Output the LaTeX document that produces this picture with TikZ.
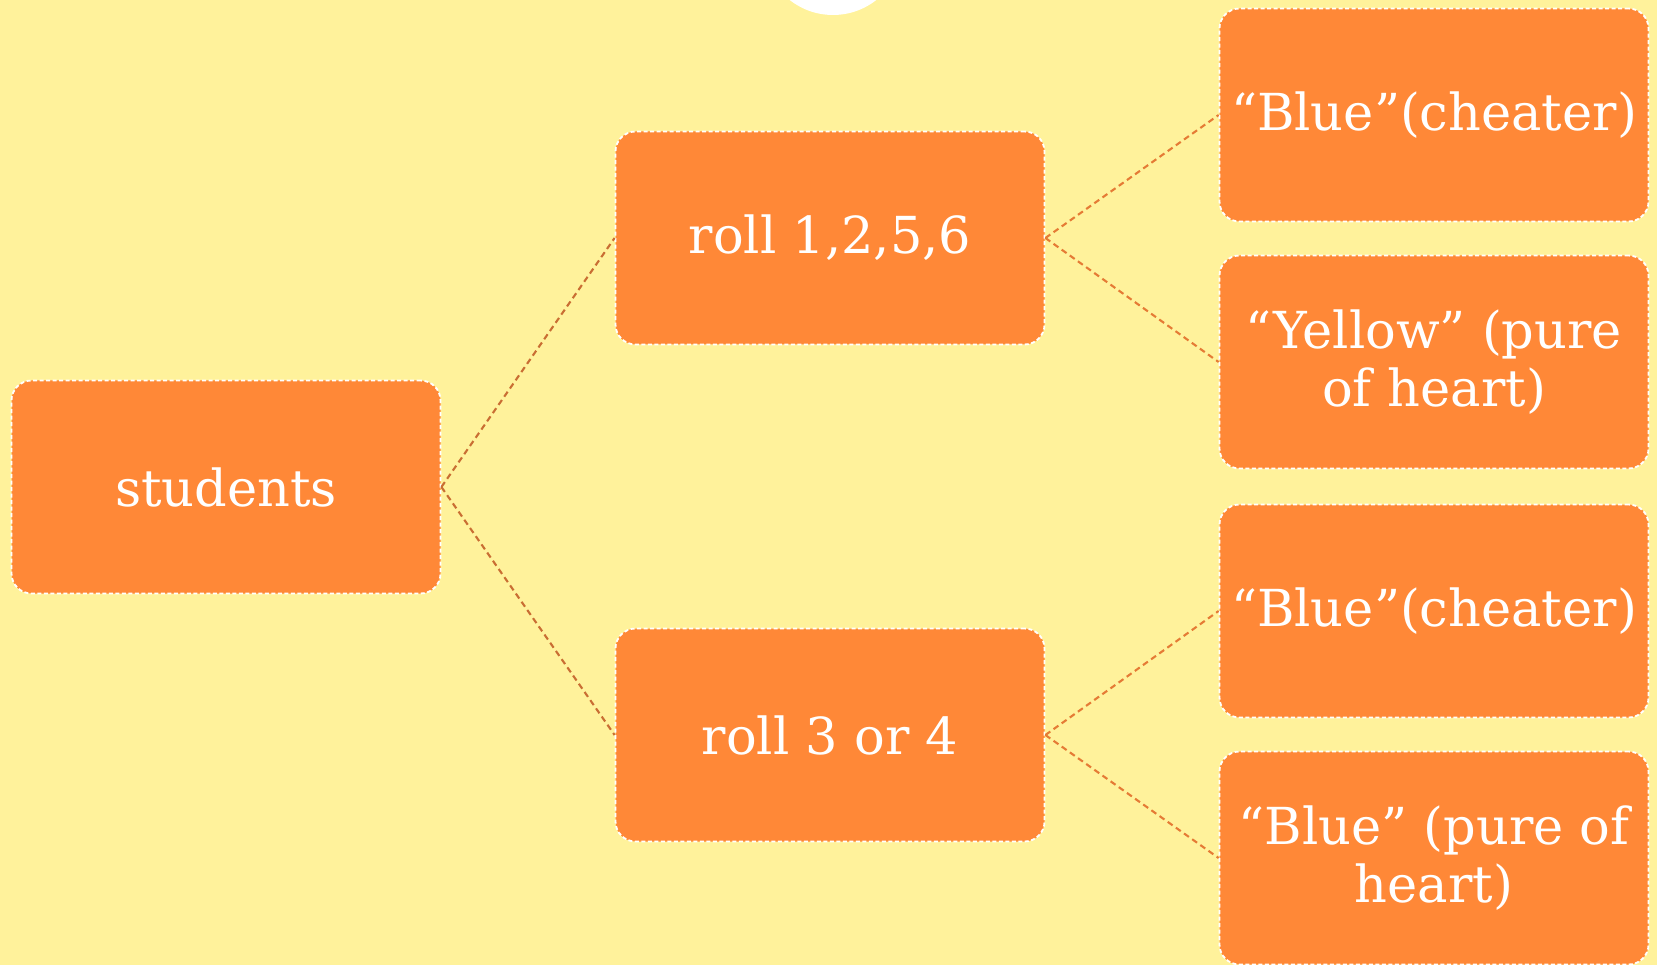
\documentclass[tikz,border=0pt]{standalone}
\usepackage{fontspec}
\setmainfont{DejaVu Serif}
\definecolor{bg}{HTML}{FFF29B}
\definecolor{boxor}{HTML}{FF8837}
\definecolor{lineA}{HTML}{C96E33}
\definecolor{lineB}{HTML}{E57B35}
\tikzset{
  tbox/.style={draw=white, line width=1.8pt, dash pattern=on 4pt off 2.5pt, fill=boxor,
    rounded corners=20pt, minimum width=429pt, minimum height=213pt, inner sep=0pt,
    text=white, align=center, font=\fontsize{51}{58}\selectfont},
  conn/.style={line width=2.1pt, dash pattern=on 6pt off 4pt},
}
\begin{document}
\begin{tikzpicture}[x=1pt,y=-1pt]
\fill[bg] (0,0) rectangle (1657,965);
\useasboundingbox (0,0) rectangle (1657,965);
\fill[white] (833,-55) circle (70);
\node[tbox] (s) at (226,487) {students};
\node[tbox] (r1) at (830,238) {roll 1,2,5,6};
\node[tbox] (r2) at (830,735) {roll 3 or 4};
\node[tbox] (a) at (1434,115) {“Blue”(cheater)};
\node[tbox] (b) at (1434,362) {“Yellow” (pure\\of heart)};
\node[tbox] (c) at (1434,611) {“Blue”(cheater)};
\node[tbox] (d) at (1434,858) {“Blue” (pure of\\heart)};
\draw[conn, lineA] (s.east) -- (r1.west);
\draw[conn, lineA] (s.east) -- (r2.west);
\draw[conn, lineB] (r1.east) -- (a.west);
\draw[conn, lineB] (r1.east) -- (b.west);
\draw[conn, lineB] (r2.east) -- (c.west);
\draw[conn, lineB] (r2.east) -- (d.west);
\end{tikzpicture}
\end{document}
